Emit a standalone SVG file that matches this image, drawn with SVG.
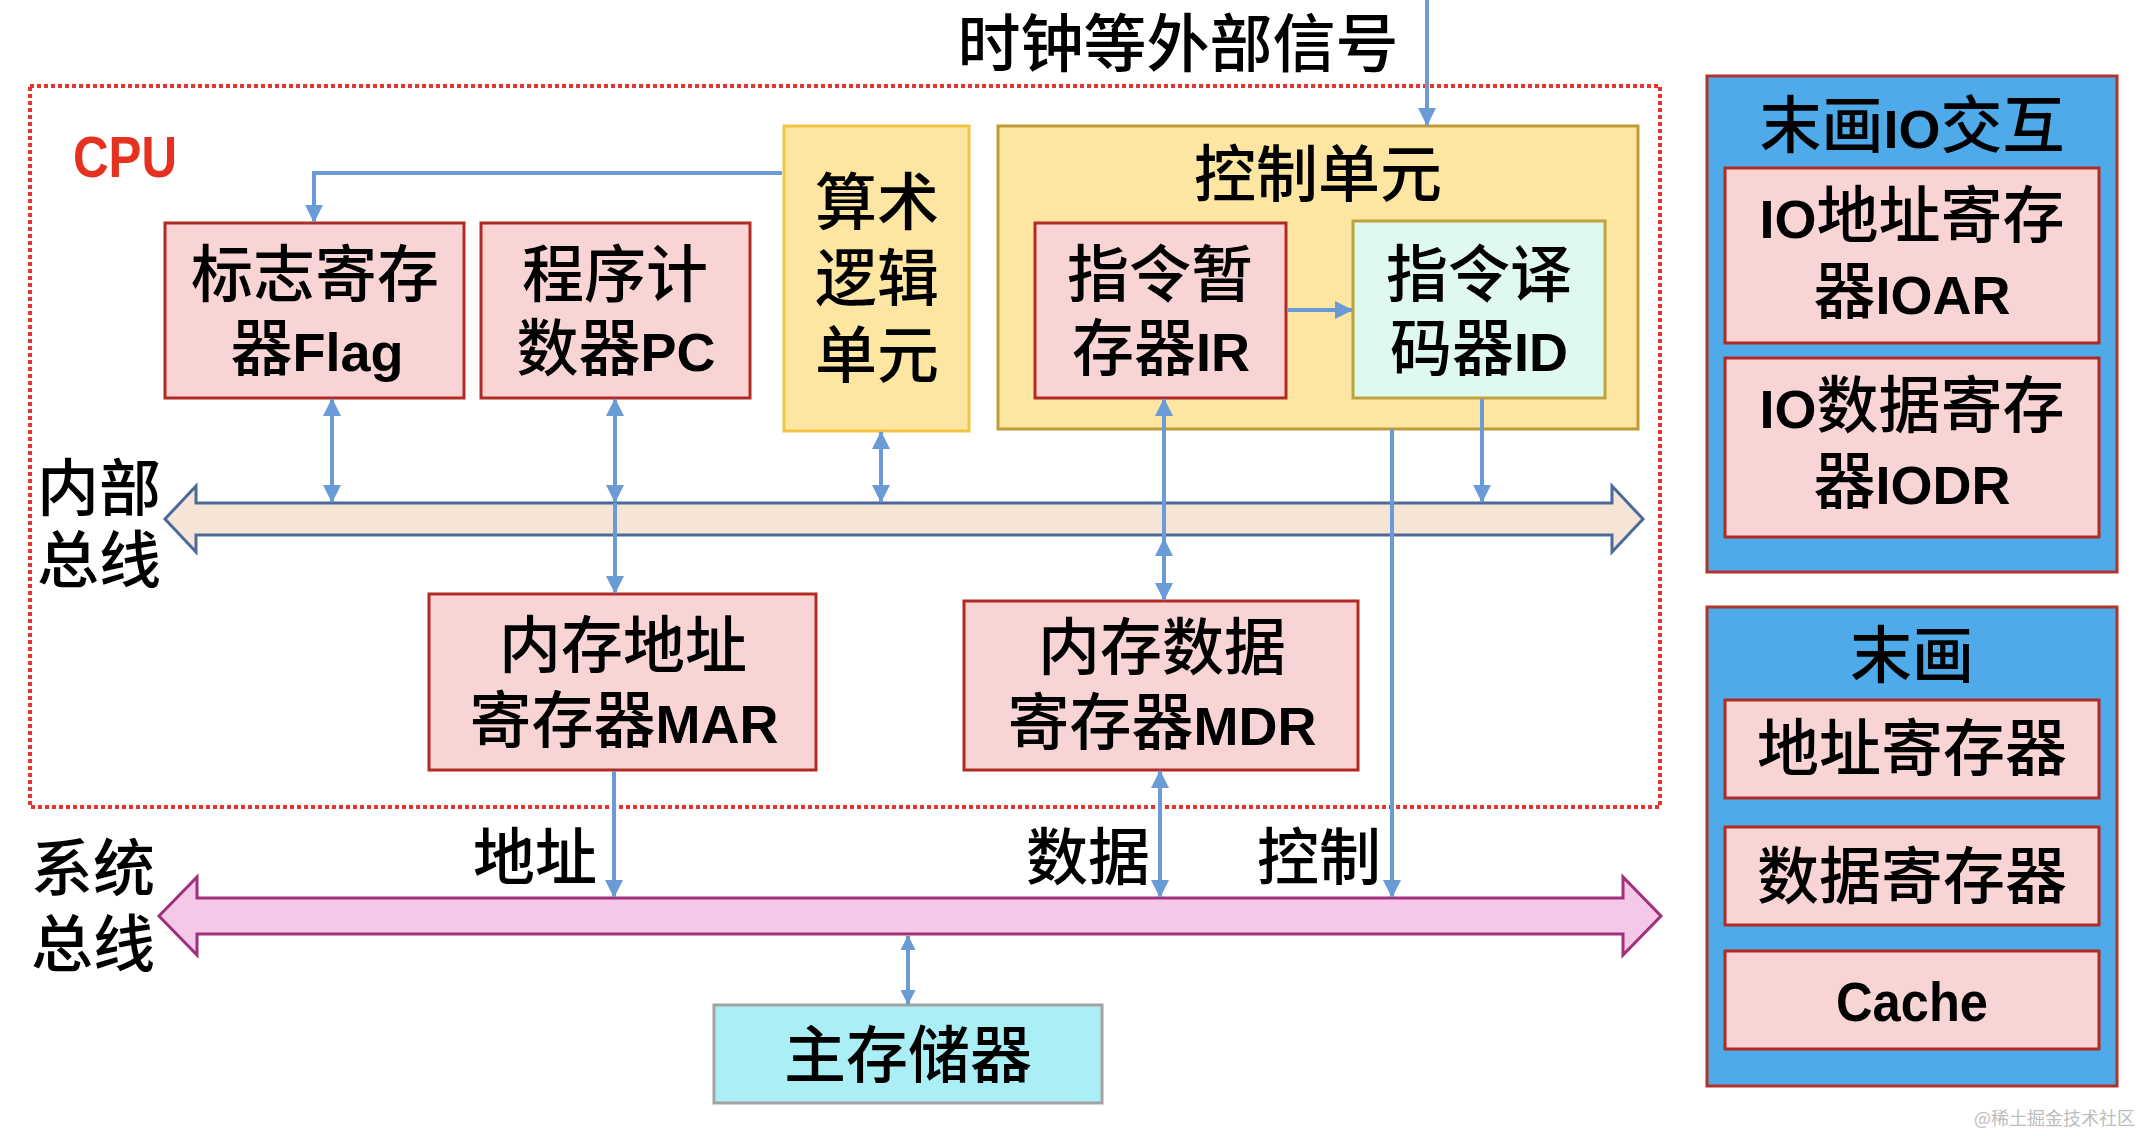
<svg xmlns="http://www.w3.org/2000/svg" width="2142" height="1136" viewBox="0 0 2142 1136">
<style>
  .cjk { font-family: "Noto Sans CJK SC", "Noto Sans CJK JP", sans-serif; font-weight: 500; fill: #000; }
  .lat { font-family: "Liberation Sans", Arial, sans-serif; font-weight: bold; font-size: 54px; }
  .t62 { font-size: 62px; }
  .mid { text-anchor: middle; }
  .pink { fill: #f8d4d4; stroke: #b22a24; stroke-width: 3; }
  .yel { fill: #fce6a2; stroke-width: 3; }
  .blue { fill: #4eaae8; stroke: #b0342c; stroke-width: 3; }
  .conn { stroke: #6b9bd6; stroke-width: 4; fill: none; }
</style>
<defs>
  <marker id="ah" viewBox="0 0 18 18" refX="17" refY="9" markerWidth="18" markerHeight="18" markerUnits="userSpaceOnUse" orient="auto-start-reverse">
    <path d="M0,0 L18,9 L0,18 z" fill="#6b9bd6"/>
  </marker>
  <marker id="ahs" viewBox="0 0 16 16" refX="15" refY="8" markerWidth="15" markerHeight="15" markerUnits="userSpaceOnUse" orient="auto-start-reverse">
    <path d="M0,0 L16,8 L0,16 z" fill="#6b9bd6"/>
  </marker>
</defs>
<rect width="2142" height="1136" fill="#ffffff"/>

<!-- CPU boundary -->
<g id="cpu">
  <rect x="30" y="86" width="1630" height="721" fill="none" stroke="#e8342c" stroke-width="4" stroke-dasharray="4,3"/>
  <text x="73" y="177" font-family="Liberation Sans, Arial, sans-serif" font-weight="bold" font-size="58" fill="#e5311f" textLength="104" lengthAdjust="spacingAndGlyphs">CPU</text>
</g>

<text class="cjk mid" x="1178" y="66" font-size="63">时钟等外部信号</text>

<!-- buses -->
<g id="internal-bus">
  <polygon points="165,519 196,486 196,503 1612,503 1612,486 1643,519 1612,552 1612,535 196,535 196,552" fill="#f6e5d6" stroke="#4a6a9a" stroke-width="3" stroke-linejoin="miter"/>
  <text class="cjk t62 mid" x="99" y="511">内部</text>
  <text class="cjk t62 mid" x="99" y="583">总线</text>
</g>
<g id="system-bus">
  <polygon points="159,916 197,877 197,898 1623,898 1623,877 1661,916 1623,955 1623,934 197,934 197,955" fill="#f5c8e8" stroke="#a0307a" stroke-width="3"/>
  <text class="cjk t62 mid" x="93" y="891">系统</text>
  <text class="cjk t62 mid" x="93" y="967">总线</text>
</g>

<!-- nodes -->
<g id="flag">
  <rect class="pink" x="165" y="223" width="299" height="175"/>
  <text class="cjk t62 mid" x="315" y="297">标志寄存</text>
  <text class="cjk t62 mid" x="317" y="371">器<tspan class="lat">Flag</tspan></text>
</g>
<g id="pc">
  <rect class="pink" x="481" y="223" width="269" height="175"/>
  <text class="cjk t62 mid" x="615" y="297">程序计</text>
  <text class="cjk t62 mid" x="616" y="371">数器<tspan class="lat">PC</tspan></text>
</g>
<g id="alu">
  <rect class="yel" x="784" y="126" width="185" height="305" stroke="#f4c342"/>
  <text class="cjk t62 mid" x="877" y="225">算术</text>
  <text class="cjk t62 mid" x="877" y="301">逻辑</text>
  <text class="cjk t62 mid" x="877" y="378">单元</text>
</g>
<g id="control-unit">
  <rect class="yel" x="998" y="126" width="640" height="303" stroke="#bf9b36"/>
  <text class="cjk t62 mid" x="1318" y="197">控制单元</text>
</g>
<g id="ir">
  <rect class="pink" x="1035" y="223" width="251" height="175"/>
  <text class="cjk t62 mid" x="1160" y="297">指令暂</text>
  <text class="cjk t62 mid" x="1161" y="371">存器<tspan class="lat">IR</tspan></text>
</g>
<g id="id">
  <rect x="1353" y="221" width="252" height="177" fill="#dff9ef" stroke="#bfa23c" stroke-width="3"/>
  <text class="cjk t62 mid" x="1479" y="297">指令译</text>
  <text class="cjk t62 mid" x="1479" y="371">码器<tspan class="lat">ID</tspan></text>
</g>
<g id="mar">
  <rect class="pink" x="429" y="594" width="387" height="176"/>
  <text class="cjk t62 mid" x="623" y="668">内存地址</text>
  <text class="cjk t62 mid" x="624" y="743">寄存器<tspan class="lat">MAR</tspan></text>
</g>
<g id="mdr">
  <rect class="pink" x="964" y="601" width="394" height="169"/>
  <text class="cjk t62 mid" x="1162" y="670">内存数据</text>
  <text class="cjk t62 mid" x="1162" y="745">寄存器<tspan class="lat">MDR</tspan></text>
</g>
<g id="main-memory">
  <rect x="714" y="1005" width="388" height="98" fill="#aaeff5" stroke="#a3a3a3" stroke-width="3"/>
  <text class="cjk t62 mid" x="908" y="1078">主存储器</text>
</g>

<g id="io-group">
  <rect class="blue" x="1707" y="76" width="410" height="496"/>
  <text class="cjk t62 mid" x="1912" y="148">末画<tspan class="lat">IO</tspan>交互</text>
  <rect class="pink" x="1725" y="168" width="374" height="175"/>
  <text class="cjk t62 mid" x="1912" y="238"><tspan class="lat">IO</tspan>地址寄存</text>
  <text class="cjk t62 mid" x="1912" y="314">器<tspan class="lat">IOAR</tspan></text>
  <rect class="pink" x="1725" y="358" width="374" height="179"/>
  <text class="cjk t62 mid" x="1912" y="428"><tspan class="lat">IO</tspan>数据寄存</text>
  <text class="cjk t62 mid" x="1912" y="504">器<tspan class="lat">IODR</tspan></text>
</g>
<g id="undrawn-group">
  <rect class="blue" x="1707" y="607" width="410" height="479"/>
  <text class="cjk t62 mid" x="1912" y="678">末画</text>
  <rect class="pink" x="1725" y="700" width="374" height="98"/>
  <text class="cjk t62 mid" x="1912" y="771">地址寄存器</text>
  <rect class="pink" x="1725" y="827" width="374" height="98"/>
  <text class="cjk t62 mid" x="1912" y="899">数据寄存器</text>
  <rect class="pink" x="1725" y="951" width="374" height="98"/>
  <text class="lat mid" x="1912" y="1021" font-size="56" style="font-size:56px" textLength="152" lengthAdjust="spacingAndGlyphs">Cache</text>
</g>

<!-- connectors -->
<g id="connectors">
  <path class="conn" d="M1427,0 V125" marker-end="url(#ah)"/>
  <path class="conn" d="M782,173 H314 V222" marker-end="url(#ah)"/>
  <path class="conn" d="M332,399 V502" marker-start="url(#ah)" marker-end="url(#ah)"/>
  <path class="conn" d="M615,399 V502" marker-start="url(#ah)" marker-end="url(#ah)"/>
  <path class="conn" d="M615,503 V593" marker-end="url(#ah)"/>
  <path class="conn" d="M881,432 V502" marker-start="url(#ah)" marker-end="url(#ah)"/>
  <path class="conn" d="M1164,399 V600" marker-start="url(#ah)" marker-end="url(#ah)"/>
  <path class="conn" d="M1164,560 V539" marker-end="url(#ah)"/>
  <path class="conn" d="M1287,310 H1352" marker-end="url(#ah)"/>
  <path class="conn" d="M1482,399 V502" marker-end="url(#ah)"/>
  <path class="conn" d="M1392,429 V897" marker-end="url(#ah)"/>
  <path class="conn" d="M614,771 V897" marker-end="url(#ah)"/>
  <path class="conn" d="M1160,771 V897" marker-start="url(#ah)" marker-end="url(#ah)"/>
  <path class="conn" d="M908,936 V1004" stroke-width="3" marker-start="url(#ahs)" marker-end="url(#ahs)"/>
</g>

<g id="bus-labels">
  <text class="cjk t62 mid" x="535" y="880">地址</text>
  <text class="cjk t62 mid" x="1088" y="880">数据</text>
  <text class="cjk t62 mid" x="1319" y="880">控制</text>
</g>

<text x="2135" y="1125" font-family="Noto Sans CJK SC, sans-serif" font-size="18" fill="#bdbdbd" text-anchor="end">@稀土掘金技术社区</text>
</svg>
